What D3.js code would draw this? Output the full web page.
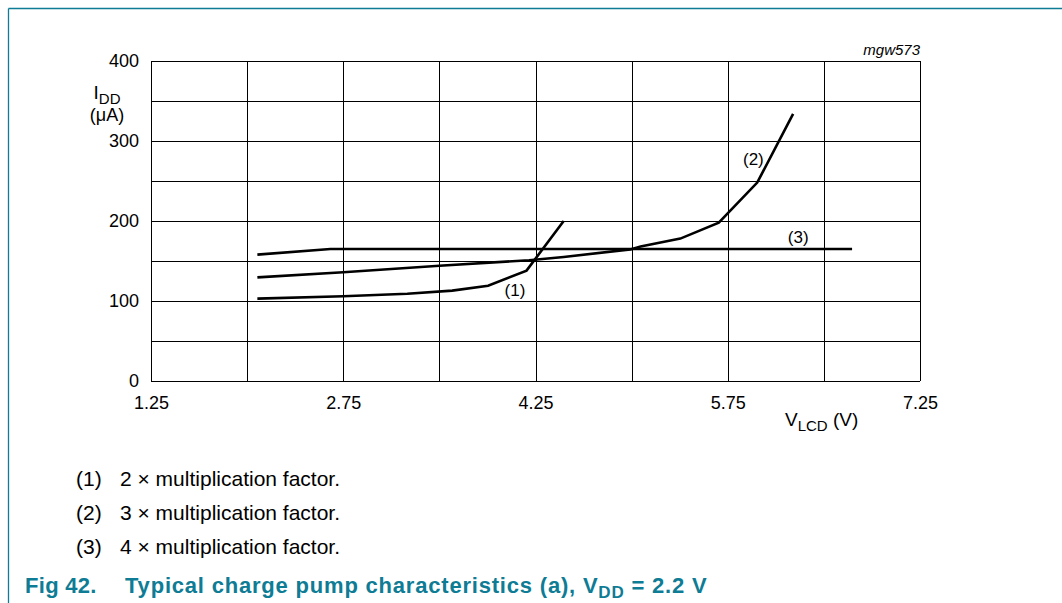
<!DOCTYPE html>
<html>
<head>
<meta charset="utf-8">
<script src="https://cdn.jsdelivr.net/npm/d3@7"></script>
<style>
  body { margin: 0; background: #fff; }
  svg text { font-family: "Liberation Sans", Arial, Helvetica, sans-serif; }
</style>
</head>
<body>
<div id="chart-container"></div>
<script>
// curve data (V_LCD in V, I_DD in uA)
var curve1 = [[2.08, 103], [2.75, 106], [3.25, 109], [3.6, 113], [3.88, 119], [4.18, 138], [4.47, 200]];
var curve2 = [[2.08, 129.5], [2.75, 136], [3.5, 144], [4.2, 151], [4.47, 155], [4.99, 164.5], [5.07, 168], [5.38, 178], [5.68, 198], [5.98, 248], [6.26, 334]];
var curve3 = [[2.08, 158], [2.65, 165], [6.72, 165]];
var curveLabels = ['(1)', '(2)', '(3)'];
var labelPos = [[4.09, 106], [5.95, 270], [6.3, 172]];

var xTicks = [1.25, 2.75, 4.25, 5.75, 7.25];
var yTicks = [0, 100, 200, 300, 400];
var xGrid = [1.25, 2, 2.75, 3.5, 4.25, 5, 5.75, 6.5, 7.25];
var yGrid = [0, 50, 100, 150, 200, 250, 300, 350, 400];

var legendNums = ['(1)', '(2)', '(3)'];
var legendTexts = ['2 \u00d7 multiplication factor.', '3 \u00d7 multiplication factor.', '4 \u00d7 multiplication factor.'];

var teal = '#0e7c94';
var W = 1062, H = 603;
var margin = { top: 61, left: 151, right: W - 920, bottom: H - 381 };

var svg = d3.select('#chart-container').append('svg')
  .attr('width', W)
  .attr('height', H);

// page frame
svg.append('line').attr('x1', 8.5).attr('x2', W).attr('y1', 8.5).attr('y2', 8.5)
  .attr('stroke', teal).attr('stroke-width', 1.3);
svg.append('line').attr('x1', 8.5).attr('x2', 8.5).attr('y1', 8.5).attr('y2', H)
  .attr('stroke', teal).attr('stroke-width', 1.3);

var x = d3.scaleLinear().domain([1.25, 7.25]).range([margin.left, W - margin.right]);
var y = d3.scaleLinear().domain([0, 400]).range([H - margin.bottom, margin.top]);

// grid
svg.append('g').selectAll('line').data(xGrid).enter().append('line')
  .attr('x1', function(d) { return Math.round(x(d)) + 0.5; })
  .attr('x2', function(d) { return Math.round(x(d)) + 0.5; })
  .attr('y1', y(0)).attr('y2', y(400))
  .attr('stroke', '#000').attr('stroke-width', 1);
svg.append('g').selectAll('line').data(yGrid).enter().append('line')
  .attr('y1', function(d) { return Math.round(y(d)) + 0.5; })
  .attr('y2', function(d) { return Math.round(y(d)) + 0.5; })
  .attr('x1', x(1.25)).attr('x2', x(7.25))
  .attr('stroke', '#000').attr('stroke-width', 1);

// axes (labels only, no tick marks)
var yAxis = d3.axisLeft(y).tickValues(yTicks).tickSize(0).tickPadding(12);
svg.append('g').attr('transform', 'translate(' + margin.left + ',0)').call(yAxis)
  .call(function(g) { g.select('.domain').remove(); })
  .selectAll('text').attr('font-size', 18).attr('fill', '#000')
  .attr('font-family', '"Liberation Sans", Arial, sans-serif');

var xAxis = d3.axisBottom(x).tickValues(xTicks).tickFormat(d3.format('.2f')).tickSize(0).tickPadding(15);
svg.append('g').attr('transform', 'translate(0,' + y(0) + ')').call(xAxis)
  .call(function(g) { g.select('.domain').remove(); })
  .selectAll('text').attr('font-size', 18).attr('fill', '#000')
  .attr('font-family', '"Liberation Sans", Arial, sans-serif');

// curves
var line = d3.line().x(function(d) { return x(d[0]); }).y(function(d) { return y(d[1]); });
[curve1, curve2, curve3].forEach(function(c) {
  svg.append('path').datum(c)
    .attr('d', line)
    .attr('fill', 'none')
    .attr('stroke', '#000')
    .attr('stroke-width', 2.6)
    .attr('stroke-linejoin', 'miter');
});

// curve labels
svg.append('g').selectAll('text').data(curveLabels).enter().append('text')
  .attr('x', function(d, i) { return x(labelPos[i][0]); })
  .attr('y', function(d, i) { return y(labelPos[i][1]); })
  .attr('text-anchor', 'middle')
  .attr('font-size', 17)
  .text(function(d) { return d; });

// mgw573
svg.append('text').attr('x', 920).attr('y', 55).attr('text-anchor', 'end')
  .attr('font-size', 15).attr('font-style', 'italic').text('mgw573');

// y axis title
var yt = svg.append('text').attr('x', 107).attr('y', 99).attr('text-anchor', 'middle').attr('font-size', 19);
yt.append('tspan').text('I');
yt.append('tspan').attr('dy', 5).attr('font-size', 15).text('DD');
svg.append('text').attr('x', 107).attr('y', 121).attr('text-anchor', 'middle').attr('font-size', 18).text('(\u03bcA)');

// x axis title
var xt = svg.append('text').attr('x', 785).attr('y', 426).attr('font-size', 19);
xt.append('tspan').text('V');
xt.append('tspan').attr('dy', 5).attr('font-size', 15).text('LCD');
xt.append('tspan').attr('dy', -5).text(' (V)');

// legend
var leg = svg.append('g').selectAll('g').data(legendTexts).enter().append('g')
  .attr('transform', function(d, i) { return 'translate(0,' + (486 + i * 34) + ')'; });
leg.append('text').attr('x', 76).attr('font-size', 21).text(function(d, i) { return legendNums[i]; });
leg.append('text').attr('x', 120).attr('font-size', 21).text(function(d) { return d; });

// caption
svg.append('text').attr('x', 25).attr('y', 593).attr('font-size', 22).attr('font-weight', 'bold')
  .attr('fill', teal).attr('letter-spacing', 0.3).text('Fig 42.');
var cap = svg.append('text').attr('x', 125).attr('y', 593).attr('font-size', 22).attr('font-weight', 'bold')
  .attr('letter-spacing', 0.8).attr('fill', teal);
cap.append('tspan').text('Typical charge pump characteristics (a), V');
cap.append('tspan').attr('dy', 5).attr('font-size', 17).text('DD');
cap.append('tspan').attr('dy', -5).text(' = 2.2 V');
</script>
</body>
</html>
